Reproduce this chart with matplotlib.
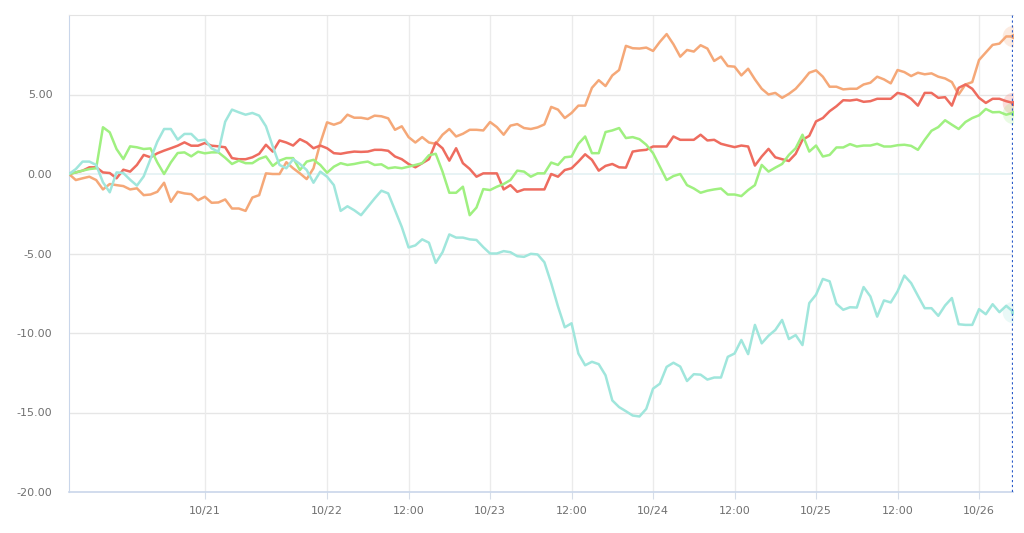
import matplotlib
matplotlib.use("Agg")
import matplotlib.pyplot as plt
import numpy as np

tick_pos = [20, 38, 50, 62, 74, 86, 98, 110, 122, 134]
tick_labels = ['10/21', '10/22', '12:00', '10/23', '12:00', '10/24', '12:00', '10/25', '12:00', '10/26']
y_ticks = [-20, -15, -10, -5, 0, 5]

orange = [0, -0.38, -0.27, -0.17, -0.38, -0.97, -0.63, -0.7, -0.76, -0.97,
          -0.9, -1.33, -1.29, -1.12, -0.55, -1.75, -1.12, -1.22, -1.27, -1.65,
          -1.43, -1.81, -1.79, -1.6, -2.17, -2.17, -2.32, -1.48, -1.33, 0.04,
          0, 0, 0.74, 0.36, 0.04, -0.32, 0.36, 1.94, 3.25, 3.1,
          3.25, 3.73, 3.54, 3.54, 3.46, 3.67, 3.63, 3.5, 2.78, 3.0,
          2.32, 1.98, 2.32, 1.98, 1.9, 2.47, 2.83, 2.36, 2.53, 2.78,
          2.78, 2.74, 3.27, 2.95, 2.47, 3.04, 3.14, 2.89, 2.83, 2.93,
          3.12, 4.22, 4.05, 3.52, 3.84, 4.3, 4.3, 5.42, 5.9, 5.53,
          6.2, 6.54, 8.06, 7.91, 7.89, 7.95, 7.74, 8.31, 8.8, 8.16,
          7.38, 7.8, 7.7, 8.1, 7.89, 7.11, 7.38, 6.79, 6.75, 6.2,
          6.62, 5.95, 5.36, 5.0, 5.1, 4.79, 5.04, 5.36, 5.84, 6.37,
          6.52, 6.12, 5.49, 5.49, 5.32, 5.36, 5.36, 5.63, 5.74, 6.12,
          5.95, 5.7, 6.54, 6.41, 6.16, 6.37, 6.27, 6.33, 6.12, 6.01,
          5.78, 5.0, 5.63, 5.78, 7.17, 7.64, 8.12, 8.2, 8.65, 8.65]

red = [0, 0.1, 0.21, 0.42, 0.42, 0.1, 0.06, -0.27, 0.27, 0.15,
       0.57, 1.2, 1.05, 1.3, 1.47, 1.62, 1.78, 1.99, 1.78, 1.78,
       1.95, 1.78, 1.74, 1.68, 1.0, 0.93, 0.93, 1.05, 1.27, 1.84,
       1.41, 2.11, 1.98, 1.79, 2.19, 1.98, 1.62, 1.79, 1.62, 1.31,
       1.27, 1.35, 1.41, 1.39, 1.41, 1.52, 1.52, 1.46, 1.1, 0.93,
       0.63, 0.42, 0.68, 0.93, 1.98, 1.62, 0.84, 1.62, 0.68, 0.32,
       -0.17, 0.04, 0.04, 0.04, -0.97, -0.7, -1.12, -0.97, -0.97, -0.97,
       -0.97, 0, -0.17, 0.25, 0.36, 0.78, 1.24, 0.89, 0.21, 0.51,
       0.63, 0.42, 0.4, 1.41, 1.48, 1.52, 1.73, 1.73, 1.73, 2.36,
       2.15, 2.15, 2.15, 2.47, 2.11, 2.15, 1.9, 1.79, 1.69, 1.79,
       1.73, 0.53, 1.1, 1.58, 1.05, 0.93, 0.82, 1.27, 2.15, 2.4,
       3.31, 3.52, 3.95, 4.26, 4.64, 4.62, 4.68, 4.54, 4.58, 4.73,
       4.73, 4.73, 5.1, 5.0, 4.73, 4.3, 5.1, 5.1, 4.79, 4.83,
       4.3, 5.42, 5.63, 5.36, 4.79, 4.47, 4.73, 4.73, 4.58, 4.47]

green = [0, 0.1, 0.21, 0.31, 0.36, 2.94, 2.62, 1.57, 0.94, 1.74,
         1.68, 1.57, 1.61, 0.73, 0, 0.73, 1.32, 1.36, 1.11, 1.4,
         1.3, 1.36, 1.36, 1.02, 0.63, 0.84, 0.68, 0.68, 0.95, 1.1,
         0.51, 0.84, 1.0, 1.0, 0.25, 0.78, 0.89, 0.57, 0.08, 0.46,
         0.68, 0.57, 0.63, 0.72, 0.78, 0.57, 0.61, 0.36, 0.42, 0.36,
         0.46, 0.57, 0.68, 1.18, 1.27, 0.15, -1.18, -1.18, -0.8, -2.59,
         -2.11, -0.95, -1.01, -0.8, -0.63, -0.38, 0.21, 0.15, -0.17, 0.04,
         0.04, 0.72, 0.57, 1.05, 1.1, 1.9, 2.36, 1.31, 1.31, 2.64,
         2.74, 2.89, 2.26, 2.32, 2.19, 1.84, 1.31, 0.46, -0.38, -0.13,
         0, -0.7, -0.91, -1.18, -1.05, -0.97, -0.91, -1.29, -1.29, -1.39,
         -1.01, -0.7, 0.57, 0.15, 0.4, 0.63, 1.2, 1.62, 2.47, 1.41,
         1.79, 1.1, 1.2, 1.67, 1.67, 1.88, 1.73, 1.79, 1.79, 1.9,
         1.73, 1.73, 1.81, 1.84, 1.77, 1.52, 2.15, 2.72, 2.95, 3.38,
         3.1, 2.83, 3.27, 3.52, 3.69, 4.09, 3.88, 3.9, 3.73, 3.84]

cyan = [0, 0.31, 0.78, 0.78, 0.57, -0.52, -1.15, 0.1, 0.06, -0.36,
        -0.73, -0.15, 0.94, 2.03, 2.83, 2.83, 2.16, 2.52, 2.52, 2.1,
        2.16, 1.61, 1.4, 3.29, 4.05, 3.88, 3.73, 3.84, 3.67, 3.0,
        1.73, 0.57, 0.36, 0.93, 0.63, 0.25, -0.55, 0.15, -0.17, -0.7,
        -2.32, -2.03, -2.28, -2.59, -2.07, -1.54, -1.05, -1.22, -2.28, -3.33,
        -4.62, -4.49, -4.11, -4.32, -5.59, -4.92, -3.8, -4.0, -4.0, -4.11,
        -4.15, -4.6, -5.0, -5.0, -4.85, -4.92, -5.17, -5.21, -5.02, -5.06,
        -5.55, -6.86, -8.33, -9.64, -9.39, -11.29, -12.03, -11.81, -11.96, -12.66,
        -14.24, -14.66, -14.92, -15.19, -15.25, -14.77, -13.5, -13.19, -12.13, -11.87,
        -12.11, -13.02, -12.59, -12.62, -12.93, -12.8, -12.8, -11.5, -11.29, -10.44,
        -11.33, -9.49, -10.65, -10.17, -9.81, -9.18, -10.38, -10.13, -10.76, -8.12,
        -7.59, -6.6, -6.75, -8.16, -8.54, -8.38, -8.4, -7.11, -7.7, -8.97,
        -7.95, -8.08, -7.38, -6.39, -6.86, -7.66, -8.44, -8.44, -8.92, -8.27,
        -7.8, -9.45, -9.49, -9.49, -8.5, -8.82, -8.19, -8.69, -8.29, -8.65]

series = [(orange, '#F5A878'), (red, '#EE6C5F'), (green, '#9FF080'), (cyan, '#A0E6DC')]

fig = plt.figure(figsize=(10.24, 5.33), dpi=100)
ax = fig.add_axes([69/1024, 41/533, 944/1024, 477/533])

x = np.arange(len(orange))
for vals, col in series:
    ax.plot(x, vals, color=col, lw=1.8, solid_joinstyle='round', zorder=3)
    ax.scatter([x[-1]], [vals[-1]], s=240, color=col, alpha=0.22, zorder=4, lw=0)
    ax.scatter([x[-1]], [vals[-1]], s=14, color=col, zorder=5, lw=0)

ax.set_xlim(0, len(orange) - 1)
ax.set_ylim(-20, 10)
ax.set_yticks(y_ticks)
ax.set_yticklabels([f"{v:.2f}" for v in y_ticks])
ax.set_xticks(tick_pos)
ax.set_xticklabels(tick_labels)

for yv in [-15, -10, -5, 5]:
    ax.axhline(yv, color='#e6e6e6', lw=1, zorder=1)
ax.axhline(0, color='#e4f1f4', lw=1.2, zorder=1)
for xv in tick_pos:
    ax.axvline(xv, color='#ebebeb', lw=1, zorder=1)

ax.axvline(len(orange) - 1, color='#2a5bc9', lw=1.6, ls=(0, (1, 1.2)), zorder=6)

ax.spines['right'].set_visible(False)
ax.spines['top'].set_color('#e3e3e3')
ax.spines['left'].set_color('#c9d6ea')
ax.spines['bottom'].set_color('#c9d6ea')
ax.spines['bottom'].set_linewidth(1.2)

ax.tick_params(axis='y', length=0, pad=12, labelsize=8, labelcolor='#707070')
ax.tick_params(axis='x', length=5, color='#d6dde8', pad=5, labelsize=8, labelcolor='#707070')

fig.savefig('out.png', dpi=100)
